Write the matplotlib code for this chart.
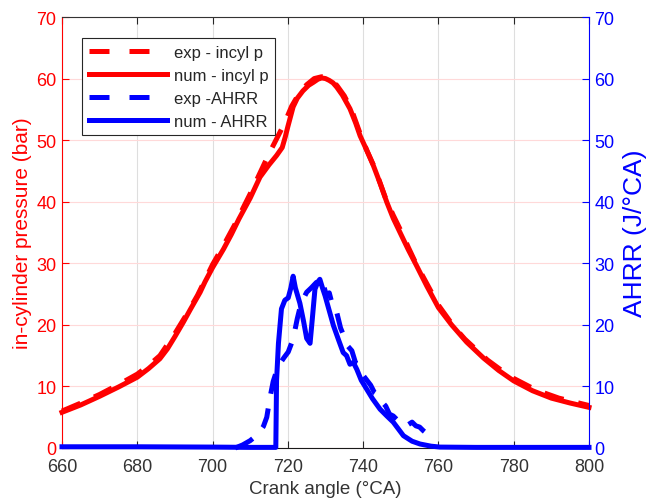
import numpy as np
import matplotlib.pyplot as plt
from matplotlib.lines import Line2D

plt.rcParams['font.family'] = ['Liberation Sans', 'DejaVu Sans']

# #
# Data
# #

# in-cylinder pressure, numerical (bar)
ang_p_num = [660, 665, 670, 675, 680, 683, 686, 688, 690, 692.2, 694, 696.7, 698, 700,
             702.9, 705, 707, 710, 712.6, 715, 717, 718.5, 719.3, 720, 721.4, 722.5,
             724, 725.5, 726.8, 728, 729, 730, 731, 732, 733, 734.5, 736.5, 738, 739.2,
             741, 742.7, 744.5, 746.3, 748, 749.8, 752, 754.2, 757, 760, 763.5, 767.5,
             772, 776, 780, 785, 790, 795, 800]
p_num = [5.8, 7.0, 8.4, 9.9, 11.5, 12.9, 14.5, 16.1, 18.1, 20.4, 22.4, 25.3, 27.0, 29.3,
         32.3, 34.7, 37.2, 40.6, 44.0, 46.0, 47.5, 48.8, 50.5, 52.2, 55.4, 56.8,
         58.0, 58.9, 59.4, 59.9, 60.1, 60.0, 59.7, 59.3, 58.6, 57.3, 55.1, 52.8, 50.7,
         48.3, 45.9, 43.0, 39.9, 37.3, 35.0, 32.2, 29.6, 26.2, 22.8, 20.0, 17.2,
         14.6, 12.6, 10.9, 9.3, 8.1, 7.3, 6.6]

# in-cylinder pressure, experiment (bar)
ang_p_exp = [660, 665, 670, 675, 680, 683, 686, 690, 693, 696, 700, 703, 706, 710, 713,
             715, 717, 719, 721, 723, 725, 727, 729, 731, 733, 735, 737, 739, 741, 743,
             746, 748, 750, 752, 754, 757, 760, 764, 767, 773, 777, 780, 786, 792, 796, 800]
p_exp = [6.0, 7.3, 8.7, 10.3, 12.0, 13.4, 15.0, 18.6, 21.6, 24.8, 29.8, 33.0, 36.4, 41.3, 45.2,
         47.8, 50.2, 52.6, 55.5, 57.6, 59.0, 60.0, 60.3, 59.9, 58.9, 57.2, 54.8, 51.4, 48.3, 45.6,
         40.5, 37.8, 35.3, 32.6, 30.0, 26.6, 23.2, 19.8, 17.7, 14.3, 12.5, 11.3, 9.4, 8.1, 7.5, 6.9]

# apparent heat release rate, numerical (J/°CA)
ang_q_num = [660, 680, 700, 710, 716.8, 717.0, 717.5, 718.3, 719.2, 720.1, 720.8, 721.4,
             722.0, 723.2, 724.2, 725.0, 725.9, 726.5, 727.2, 728.0, 728.5, 729.2, 729.9,
             731.0, 732.1, 733.5, 734.7, 735.6, 736.5, 737.4, 738.3, 739.5, 740.9, 742.5,
             744.5, 746.3, 748, 750.7, 753, 755.1, 758, 760.4, 770, 780, 800]
q_num = [0.2, 0.2, 0.15, 0.1, 0.1, 11.0, 17.0, 22.6, 24.0, 24.4, 26.0, 27.9,
         26.0, 23.5, 20.5, 17.8, 17.0, 21.0, 25.8, 27.0, 27.4, 26.0, 24.7,
         22.3, 19.9, 17.5, 15.5, 15.0, 13.6, 13.9, 12.8, 11.0, 9.6, 8.0,
         6.3, 5.2, 4.2, 2.0, 1.1, 0.65, 0.3, 0.15, 0.1, 0.1, 0.1]

# apparent heat release rate, experiment (J/°CA)
ang_q_exp = [706, 708, 710, 712, 713.5, 714.4, 715.2, 716.1, 717, 718, 719, 720.1, 721.4,
             722.5, 723.5, 725, 726.2, 727.6, 728.5, 729.2, 730.3, 731, 732.1, 733, 734,
             735, 736, 737, 738, 739, 740, 741, 742, 743, 744, 745, 746, 747, 748, 749,
             750, 751, 752, 753, 754, 755, 756, 757]
q_exp = [0.0, 0.5, 1.2, 2.2, 3.5, 5.0, 8.0, 10.8, 12.5, 13.8, 14.7, 15.6, 17.7,
         21.0, 23.5, 25.3, 26.0, 26.9, 26.2, 27.0, 24.7, 25.2, 22.6, 22.0, 19.5,
         18.0, 16.5, 15.8, 13.8, 13.5, 11.8, 11.0, 10.2, 9.0, 8.6, 7.5, 6.8, 5.5, 5.2, 4.6,
         4.3, 4.5, 3.8, 4.2, 3.6, 3.4, 2.8, 2.3]

x_ticks = list(range(660, 801, 20))
y_ticks = list(range(0, 71, 10))

# #
# Plot
# #

fig = plt.figure(figsize=(6.5, 5.02), dpi=100)
ax = fig.add_axes([62/650, 53/502, 527/650, 431/502])
ax2 = ax.twinx()

lw = 3.6
ax.plot(ang_p_exp, p_exp, color='red', lw=lw, dashes=(4, 3), clip_on=False)
ax.plot(ang_p_num, p_num, color='red', lw=lw, clip_on=False)
ax2.plot(ang_q_exp, q_exp, color='blue', lw=lw, dashes=(4, 3), clip_on=False)
ax2.plot(ang_q_num, q_num, color='blue', lw=lw, clip_on=False)

ax.set_xlim(660, 800)
ax.set_ylim(0, 70)
ax2.set_ylim(0, 70)
ax.set_xticks(x_ticks)
ax.set_yticks(y_ticks)
ax2.set_yticks(y_ticks)

# grid
ax.set_axisbelow(True)
ax.xaxis.grid(True, color='0.87', lw=0.8)
ax.yaxis.grid(True, color=(1, 0.85, 0.85), lw=0.8)

# spines
ax.spines['left'].set_color('red')
ax.spines['right'].set_visible(False)
ax.spines['top'].set_color('0.2')
ax.spines['bottom'].set_color('0.1')
for s in ['left', 'top', 'bottom']:
    ax2.spines[s].set_visible(False)
ax2.spines['right'].set_color('blue')

# ticks
ax.tick_params(axis='x', direction='in', top=True, length=5, color='0.15',
               labelcolor='0.2', labelsize=13, pad=7)
ax.tick_params(axis='y', direction='in', length=5, colors='red', labelsize=13, pad=4)
ax2.tick_params(axis='y', direction='in', length=5, colors='blue', labelsize=13, pad=4)

ax.set_xlabel('Crank angle (°CA)', fontsize=13.5, color='0.2', labelpad=4)
ax.set_ylabel('in-cylinder pressure (bar)', fontsize=15, color='red', labelpad=3)
ax2.set_ylabel('AHRR (J/°CA)', fontsize=19, color='blue', labelpad=6)

# legend
handles = [
    Line2D([], [], color='red', lw=lw, dashes=(4, 4)),
    Line2D([], [], color='red', lw=lw),
    Line2D([], [], color='blue', lw=lw, dashes=(4, 4)),
    Line2D([], [], color='blue', lw=lw),
]
labels = ['exp - incyl p', 'num - incyl p', 'exp -AHRR', 'num - AHRR']
leg = ax2.legend(handles, labels, loc='upper left', bbox_to_anchor=(0.038, 0.951),
                 borderaxespad=0, fontsize=12, handlelength=4.7, handletextpad=0.4,
                 borderpad=0.4, labelspacing=0.48, fancybox=False, framealpha=1,
                 edgecolor='0.15')
leg.get_frame().set_linewidth(0.8)
for t in leg.get_texts():
    t.set_color('0.15')

fig.savefig('out.png', dpi=100)
